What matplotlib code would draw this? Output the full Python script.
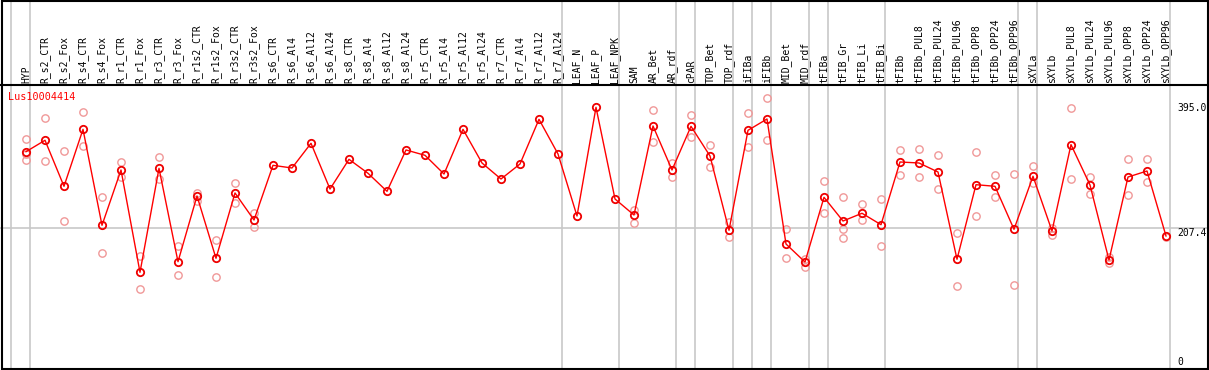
import matplotlib
matplotlib.use('Agg')
import matplotlib.pyplot as plt
from matplotlib.patches import Rectangle

# sample names (x axis)
samples = ['HYP', 'R_s2_CTR', 'R_s2_Fox', 'R_s4_CTR', 'R_s4_Fox', 'R_r1_CTR', 'R_r1_Fox',
           'R_r3_CTR', 'R_r3_Fox', 'R_r1s2_CTR', 'R_r1s2_Fox', 'R_r3s2_CTR', 'R_r3s2_Fox',
           'R_s6_CTR', 'R_s6_Al4', 'R_s6_Al12', 'R_s6_Al24', 'R_s8_CTR', 'R_s8_Al4',
           'R_s8_Al12', 'R_s8_Al24', 'R_r5_CTR', 'R_r5_Al4', 'R_r5_Al12', 'R_r5_Al24',
           'R_r7_CTR', 'R_r7_Al4', 'R_r7_Al12', 'R_r7_Al24', 'LEAF_N', 'LEAF_P', 'LEAF_NPK',
           'SAM', 'AR_Bet', 'AR_rdf', 'cPAR', 'TOP_Bet', 'TOP_rdf', 'iFIBa', 'iFIBb',
           'MID_Bet', 'MID_rdf', 'tFIBa', 'tFIB_Gr', 'tFIB_Li', 'tFIB_Bi', 'tFIBb',
           'tFIBb_PUL8', 'tFIBb_PUL24', 'tFIBb_PUL96', 'tFIBb_OPP8', 'tFIBb_OPP24',
           'tFIBb_OPP96', 'sXYLa', 'sXYLb', 'sXYLb_PUL8', 'sXYLb_PUL24', 'sXYLb_PUL96',
           'sXYLb_OPP8', 'sXYLb_OPP24', 'sXYLb_OPP96']

# mean expression per sample
means = [322.4, 339.5, 270.6, 355.9, 212.2, 295.0, 141.8, 297.5, 157.7, 256.1, 162.8,
         260.6, 220.1, 302.0, 298.0, 335.0, 266.5, 311.0, 290.1, 263.1, 325.0, 317.0,
         289.0, 355.9, 305.5, 281.5, 304.0, 370.9, 319.0, 226.1, 388.9, 251.6, 227.6,
         360.9, 295.0, 360.4, 316.0, 204.7, 354.4, 371.4, 184.2, 157.2, 254.1, 218.6,
         230.2, 213.1, 307.0, 305.5, 292.0, 161.3, 273.0, 270.6, 206.2, 285.6, 203.7,
         333.0, 272.5, 160.2, 284.5, 293.5, 196.2]

# replicate values per sample (empty = no replicates shown)
replicates = [[341.0, 319.0, 310.0], [372.4, 308.5], [323.0, 218.2], [381.4, 330.5],
              [254.1, 170.3], [307.0, 284.1], [166.2, 116.4], [314.0, 281.1],
              [181.2, 137.3], [261.0, 249.0], [189.7, 134.3], [275.5, 245.6],
              [230.2, 210.1], [], [], [], [], [], [], [], [], [], [], [], [], [], [], [],
              [], [], [], [], [235.1, 215.2], [384.4, 337.4], [305.9, 284.1],
              [377.4, 344.4], [332.4, 299.0], [217.6, 194.2], [380.4, 329.0],
              [402.4, 339.5], [206.2, 162.8], [161.3, 150.2], [278.1, 230.2],
              [254.6, 206.6, 192.7], [243.6, 220.1], [251.6, 181.2], [324.5, 287.1],
              [326.0, 284.1], [317.0, 266.5], [200.2, 120.8], [322.0, 225.7],
              [287.1, 254.1], [288.6, 122.3], [300.5, 276.0], [207.7, 198.1],
              [387.4, 281.5], [284.5, 259.1], [165.2, 155.3], [311.0, 257.1],
              [311.0, 277.0], [194.2]]

# index of the last sample in each group (separators drawn just after them)
group_ends = [-1, 0, 28, 31, 34, 35, 37, 38, 39, 41, 42, 45, 52, 53, 60]

gene = 'Lus10004414'
ref_ticks = [395.0, 207.4, 0]

W, H = 1209, 370
X0, DX = 26, 19          # pixel of first sample, pixel step
Y0, KY = 367, 0.6678     # pixel of value 0, pixels per unit


def px_x(p):
    return (p - X0) / DX


def px_v(p):
    return (Y0 - p) / KY


fig = plt.figure(figsize=(W / 100, H / 100), dpi=100)
ax = fig.add_axes([0, 0, 1, 1])
ax.set_xlim(px_x(0), px_x(W))
ax.set_ylim(px_v(H), px_v(0))
ax.axis('off')

mono = 'DejaVu Sans Mono'

# group separators
for g in group_ends:
    ax.axvline(g + 0.21, color='#c8c8c8', lw=1.2, zorder=1)
ax.axhline(ref_ticks[1], color='#c8c8c8', lw=1.2, zorder=1)

# header line
ax.axhline(px_v(85), color='black', lw=1.5, zorder=2)

# replicate points
for i, reps in enumerate(replicates):
    for r in reps:
        ax.plot(i, r, 'o', ms=5.3, mfc='none', mec='#f09898', mew=1.0, zorder=3)

# mean line
xs = list(range(len(samples)))
ax.plot(xs, means, '-', color='#ff0000', lw=1, zorder=4)
ax.plot(xs, means, 'o', ms=5.3, mfc='none', mec='#ee0000', mew=1.3, zorder=5)

# sample labels
for i, s in enumerate(samples):
    ax.text(i, px_v(83), s, rotation=90, ha='center', va='bottom',
            fontsize=7, family=mono, color='black')

ax.text(px_x(8), px_v(97), gene, ha='left', va='center', fontsize=7.3,
        family=mono, color='#ff0000')

# right value labels
xr = px_x(1177)
ax.text(xr, ref_ticks[0], '%.1f' % ref_ticks[0], ha='left', va='top', fontsize=7, family=mono)
ax.text(xr, ref_ticks[1], '%.1f' % ref_ticks[1], ha='left', va='top', fontsize=7, family=mono)
ax.text(xr, ref_ticks[2], '%d' % ref_ticks[2], ha='left', va='bottom', fontsize=7, family=mono)

# outer frame
fig.add_artist(Rectangle((1.5 / W, 1.0 / H), (1206 / W), (368.5 / H),
                         transform=fig.transFigure, fill=False, ec='black', lw=1.5))

fig.savefig('out.png', dpi=100)
